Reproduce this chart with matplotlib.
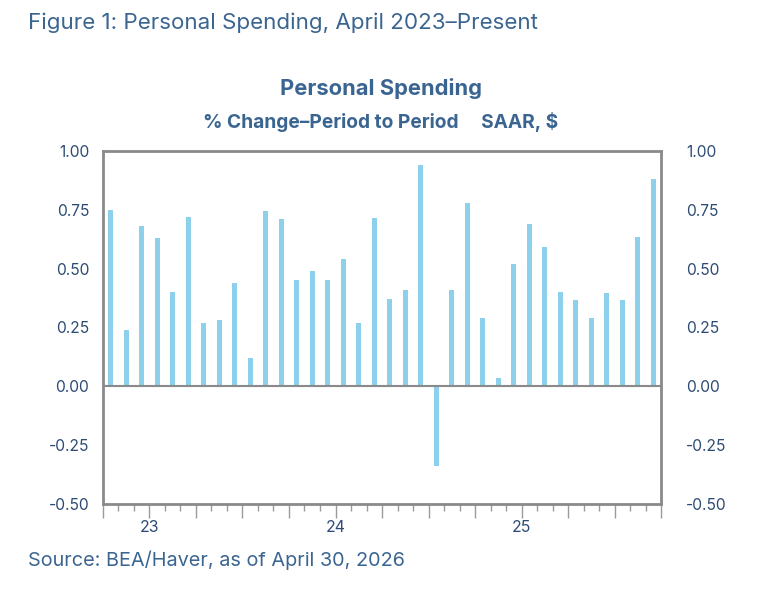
import matplotlib.pyplot as plt
from matplotlib.transforms import blended_transform_factory

plt.rcParams['font.family'] = ['Inter', 'DejaVu Sans']

# monthly % change, Apr 2023 .. Mar 2026
months = ['2023-04', '2023-05', '2023-06', '2023-07', '2023-08', '2023-09',
          '2023-10', '2023-11', '2023-12', '2024-01', '2024-02', '2024-03',
          '2024-04', '2024-05', '2024-06', '2024-07', '2024-08', '2024-09',
          '2024-10', '2024-11', '2024-12', '2025-01', '2025-02', '2025-03',
          '2025-04', '2025-05', '2025-06', '2025-07', '2025-08', '2025-09',
          '2025-10', '2025-11', '2025-12', '2026-01', '2026-02', '2026-03']
pct_change = [0.75, 0.24, 0.68, 0.63, 0.40, 0.72, 0.27, 0.28, 0.44, 0.12,
              0.745, 0.71, 0.45, 0.49, 0.45, 0.54, 0.27, 0.715, 0.37, 0.41,
              0.94, -0.34, 0.41, 0.78, 0.29, 0.035, 0.52, 0.69, 0.59, 0.40,
              0.365, 0.29, 0.395, 0.365, 0.635, 0.88]
yticks = [-0.50, -0.25, 0.00, 0.25, 0.50, 0.75, 1.00]
year_labels = ['23', '24', '25']

title_col = '#3b6591'
tick_col = '#2d4b74'
spine_col = '#8a8a8a'
bar_col = '#8dd0ec'

fig = plt.figure(figsize=(7.68, 6.03), dpi=100)
ax = fig.add_axes([0.1341, 0.1642, 0.7266, 0.5854])

x = list(range(len(pct_change)))
ax.bar(x, pct_change, width=0.33, color=bar_col, zorder=2)
ax.axhline(0, color=spine_col, lw=1.5, zorder=3)

ax.set_xlim(-0.5, len(x) - 0.5)
ax.set_ylim(-0.5, 1.0)
ax.set_yticks(yticks)
ax.set_yticklabels([f'{v:.2f}' for v in yticks])

# month boundary ticks, longer at quarters
bounds = [i - 0.5 for i in range(len(x) + 1)]
quarters = [bounds[i] for i, m in enumerate(months) if m[5:] in ('01', '04', '07', '10')]
quarters.append(bounds[-1])
ax.set_xticks(quarters)
ax.set_xticks(bounds, minor=True)
ax.set_xticklabels([])
ax.tick_params(axis='x', which='major', length=10, width=1, color='#9a9a9a', direction='out')
ax.tick_params(axis='x', which='minor', length=5, width=1, color='#9a9a9a', direction='out')
ax.tick_params(axis='y', length=0, labelsize=11.2, labelcolor=tick_col, pad=10)

# year labels centred on each calendar year
trans = blended_transform_factory(ax.transData, ax.transAxes)
jan_idx = [i for i, m in enumerate(months) if m.endswith('-01')]
jan_idx = [jan_idx[0] - 12] + jan_idx
for lab, j in zip(year_labels, jan_idx):
    ax.text(j + 5.5, -0.068, lab, transform=trans, ha='center', va='center',
            fontsize=11.4, color=tick_col)

for s in ax.spines.values():
    s.set_color(spine_col)
    s.set_linewidth(2)

ax2 = ax.twinx()
ax2.set_ylim(ax.get_ylim())
ax2.set_yticks(yticks)
ax2.set_yticklabels([f'{v:.2f}' for v in yticks])
ax2.tick_params(axis='y', length=0, labelsize=11.2, labelcolor=tick_col, pad=18)
for s in ax2.spines.values():
    s.set_visible(False)

fig.text(0.036, 0.962, 'Figure 1: Personal Spending, April 2023\u2013Present',
         fontsize=16.1, color=title_col, va='center', ha='left')
fig.text(0.496, 0.854, 'Personal Spending', fontsize=15.8, fontweight='bold',
         color=title_col, ha='center', va='center')
fig.text(0.495, 0.797, '% Change\u2013Period to Period     SAAR, $', fontsize=13.8,
         fontweight='bold', color=title_col, ha='center', va='center')
fig.text(0.036, 0.071, 'Source: BEA/Haver, as of April 30, 2026', fontsize=14.3,
         color=title_col, ha='left', va='center')

fig.savefig('out.png', dpi=100)
